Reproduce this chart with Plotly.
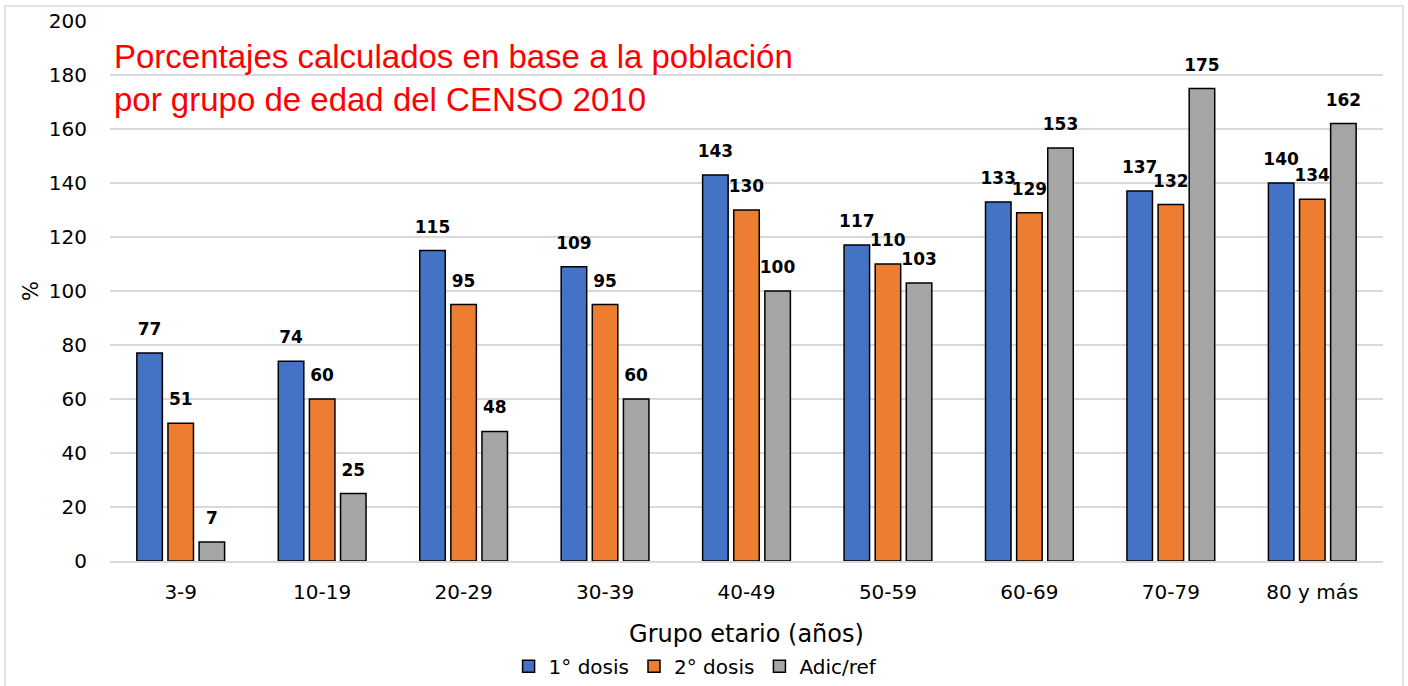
import plotly.graph_objects as go

categories = ["3-9", "10-19", "20-29", "30-39", "40-49", "50-59", "60-69", "70-79", "80 y más"]
dosis1 = [77, 74, 115, 109, 143, 117, 133, 137, 140]
dosis2 = [51, 60, 95, 95, 130, 110, 129, 132, 134]
adic = [7, 25, 48, 60, 100, 103, 153, 175, 162]
series_names = ["1° dosis", "2° dosis", "Adic/ref"]
colors = ["#4472C4", "#ED7D31", "#A5A5A5"]

FONT = "DejaVu Sans"
fig = go.Figure()
for name, vals, col in zip(series_names, [dosis1, dosis2, adic], colors):
    fig.add_trace(go.Bar(
        x=categories, y=vals, name=name,
        marker=dict(color=col, line=dict(color="#000000", width=1.5)),
        text=[str(v) for v in vals], textposition="outside",
        texttemplate="<span style='font-size:17px'>%{text}</span><br>&nbsp;",
        constraintext="none",
        textfont=dict(family=FONT, size=10, color="#000000", weight="bold"),
        cliponaxis=False,
    ))

fig.update_layout(
    width=1408, height=686,
    margin=dict(l=110, r=25, t=21, b=125, autoexpand=False),
    paper_bgcolor="white", plot_bgcolor="white",
    barmode="group", bargap=0.34, bargroupgap=0.18,
    font=dict(family=FONT, color="#000000"),
    showlegend=True,
    legend=dict(orientation="h", x=0.46, xanchor="center", y=-0.159, yanchor="top",
                font=dict(size=20, family=FONT), traceorder="normal"),
    xaxis=dict(tickfont=dict(size=20), showgrid=False, showline=True, linecolor="#D9D9D9",
               linewidth=1.5, ticks="", automargin=False, ticklabelstandoff=12,
               title=dict(text="Grupo etario (años)", font=dict(size=24), standoff=22)),
    yaxis=dict(range=[0, 200], dtick=20, tickfont=dict(size=20), showgrid=True,
               gridcolor="#D9D9D9", gridwidth=1.5, zeroline=False, showline=False,
               ticks="", ticklabelstandoff=22, automargin=False,
               title=dict(text="%", font=dict(size=21), standoff=4)),
)

fig.add_annotation(
    xref="paper", yref="paper", x=0.0016, y=0.972, xanchor="left", yanchor="top",
    text="Porcentajes calculados en base a la población<br>por grupo de edad del CENSO 2010",
    showarrow=False, align="left",
    font=dict(family="Liberation Sans", size=33, color="#FF0000"),
)

fig.add_shape(type="rect", xref="paper", yref="paper",
              x0=-0.0825, x1=1.0157, y0=-0.25, y1=1.0278,
              line=dict(color="#D9D9D9", width=1.5), fillcolor="rgba(0,0,0,0)", layer="below")

fig.write_html("out.html", config={"displayModeBar": False},
               post_script="document.body.style.margin='0px';")
